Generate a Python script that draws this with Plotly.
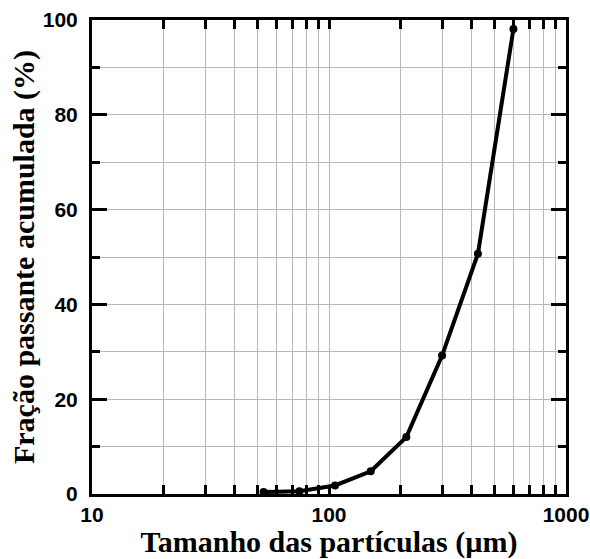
import plotly.graph_objects as go

sizes_um = [53, 75, 106, 150, 212, 300, 425, 600]
passing_pct = [0.4, 0.6, 1.8, 4.8, 12.0, 29.2, 50.7, 98.1]

x_tick_vals = [10, 100, 1000]
x_tick_text = ["10", "100", "1000"]
y_tick_vals = [0, 20, 40, 60, 80, 100]
y_tick_text = ["0", "20", "40", "60", "80", "100"]
x_minor_vals = [m * d for d in (10, 100) for m in range(2, 10)]
y_minor_vals = [10, 30, 50, 70, 90]

fig = go.Figure()
fig.add_trace(go.Scatter(
    x=sizes_um, y=passing_pct, mode="lines+markers",
    line=dict(color="black", width=4),
    marker=dict(color="black", size=8),
    showlegend=False,
))

tickfont = dict(family="Liberation Sans, Arial, sans-serif", size=21, color="black")
titlefont = dict(family="Liberation Serif, Times New Roman, serif", size=30, color="black")

fig.update_xaxes(
    type="log", range=[1, 3], automargin=False,
    tickmode="array", tickvals=x_tick_vals,
    ticktext=["<b>%s</b>" % t for t in x_tick_text],
    ticks="inside", ticklen=9, tickwidth=2.5, tickcolor="black",
    showline=True, linewidth=3, linecolor="black", mirror="ticks",
    showgrid=True, gridcolor="#b8b8b8", gridwidth=1,
    tickfont=tickfont,
    title=dict(text="<b>Tamanho das partículas (µm)</b>", font=titlefont, standoff=5),
    minor=dict(tickmode="array", tickvals=x_minor_vals, ticks="inside", ticklen=9,
               tickwidth=2.5, tickcolor="black", showgrid=True,
               gridcolor="#b8b8b8", gridwidth=1),
    zeroline=False,
)
fig.update_yaxes(
    range=[0, 100], automargin=False,
    tickmode="array", tickvals=y_tick_vals,
    ticktext=["<b>%s</b>" % t for t in y_tick_text],
    ticks="inside", ticklen=15, tickwidth=2.5, tickcolor="black",
    showline=True, linewidth=3, linecolor="black", mirror="ticks",
    showgrid=True, gridcolor="#b8b8b8", gridwidth=1,
    tickfont=tickfont, ticklabelstandoff=7,
    title=dict(text="<b>Fração passante acumulada (%)</b>", font=titlefont, standoff=0),
    minor=dict(tickmode="array", tickvals=y_minor_vals, ticks="inside", ticklen=8,
               tickwidth=2.5, tickcolor="black", showgrid=True,
               gridcolor="#b8b8b8", gridwidth=1),
    zeroline=False,
)
fig.update_layout(
    width=590, height=559,
    margin=dict(l=92, r=24, t=20, b=65),
    paper_bgcolor="white", plot_bgcolor="white",
    font=dict(family="Liberation Sans, Arial, sans-serif", color="black"),
)
fig.write_html("out.html")
